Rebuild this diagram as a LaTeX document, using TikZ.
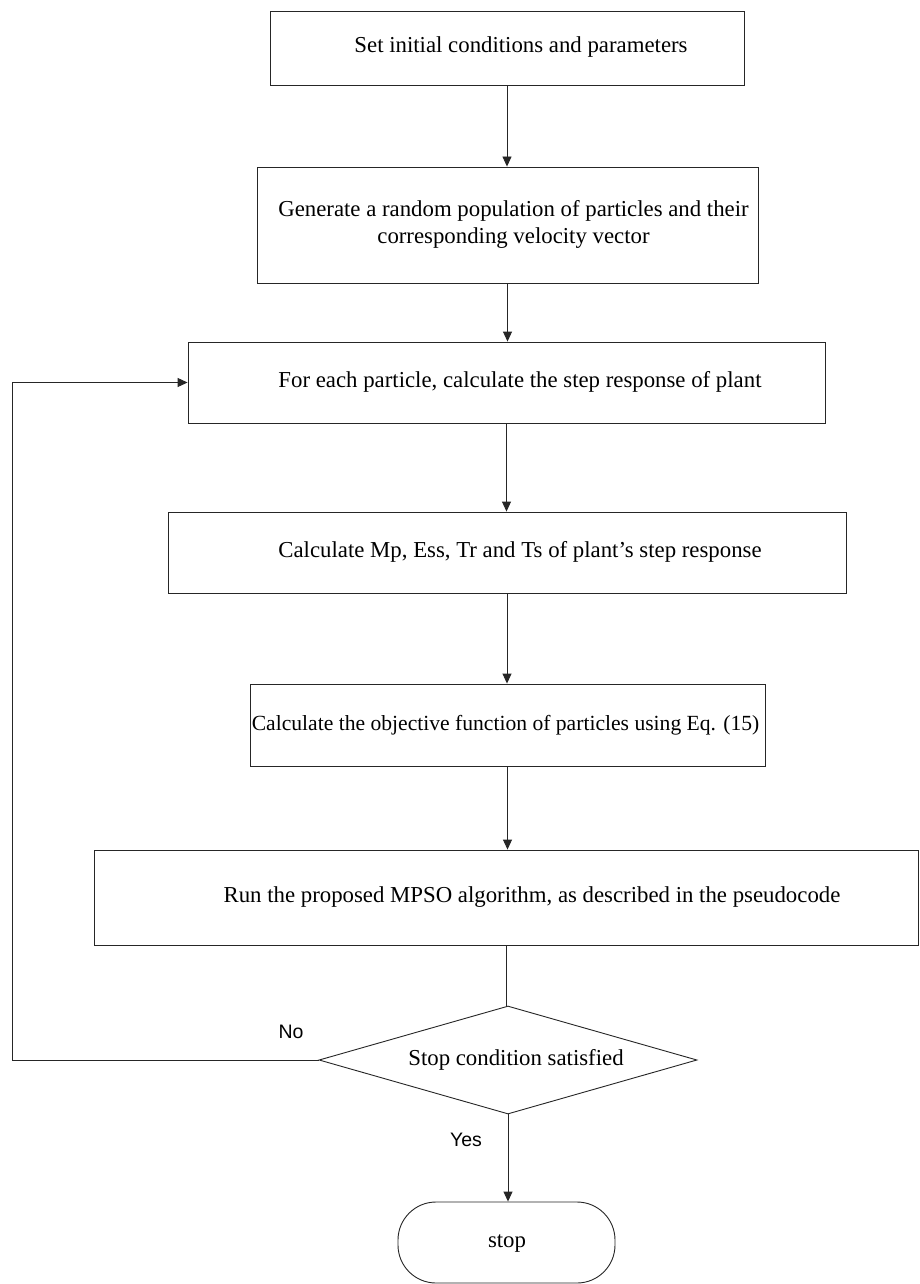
\documentclass[tikz,border=0pt]{standalone}
\usepackage{fontspec}
\setmainfont{Liberation Serif}
\newfontfamily\lsans{Liberation Sans}
\usetikzlibrary{arrows.meta,shapes.geometric}
\tikzset{
  procbox/.style={draw=black!85, line width=0.9pt, rectangle, inner sep=0pt},
  decbox/.style={draw=black!85, line width=0.9pt, diamond, inner sep=0pt},
  termbox/.style={draw=black!85, line width=0.9pt, rectangle, rounded corners=38pt, inner sep=0pt},
  txt/.style={font=\fontsize{22.8}{27.5}\selectfont, inner sep=0pt, align=center},
  lbl/.style={font=\lsans\fontsize{19.5}{22}\selectfont, inner sep=0pt},
  conn/.style={draw=black!85, line width=0.9pt},
  arr/.style={conn, -{Triangle[length=10pt,width=9pt]}}
}
\begin{document}
\begin{tikzpicture}[x=1pt,y=-1pt]
\useasboundingbox[fill=white] (0,0) rectangle (920,1284);
% boxes
\node[procbox, minimum width=474pt, minimum height=74pt] (b1) at (507,48) {};
\node[procbox, minimum width=501pt, minimum height=116pt] (b2) at (507.5,225) {};
\node[procbox, minimum width=637pt, minimum height=81pt] (b3) at (506.5,382.5) {};
\node[procbox, minimum width=678pt, minimum height=81pt] (b4) at (507,552.5) {};
\node[procbox, minimum width=515pt, minimum height=82pt] (b5) at (507.5,725) {};
\node[procbox, minimum width=824pt, minimum height=95pt] (b6) at (506,897.5) {};
\node[decbox, minimum width=378pt, minimum height=108pt] (dia) at (508,1060) {};
\node[termbox, minimum width=217pt, minimum height=81pt] (stp) at (506.5,1242.5) {};
% texts
\node[txt] (t1) at (521,47) {Set initial conditions and parameters};
\node[txt] (t2) at (513.5,224.5) {Generate a random population of particles and their\\corresponding velocity vector};
\node[txt] (t3) at (520,382) {For each particle, calculate the step response of plant};
\node[txt] (t4) at (520,552) {Calculate Mp, Ess, Tr and Ts of plant’s step response};
\node[txt, font=\fontsize{21.6}{26}\selectfont] (t5) at (505.5,725) {Calculate the objective function of particles using Eq. (15)};
\node[txt] (t6) at (532,897) {Run the proposed MPSO algorithm, as described in the pseudocode};
\node[txt] (td) at (516,1060) {Stop condition satisfied};
\node[txt] (ts) at (507,1243) {stop};
\node[lbl] (no) at (291,1032) {No};
\node[lbl] (yes) at (466,1140) {Yes};
% connectors
\draw[arr] (b1.south) -- (b1.south |- b2.north);
\draw[arr] (b2.south) -- (b2.south |- b3.north);
\draw[arr] (b3.south) -- (b3.south |- b4.north);
\draw[arr] (b4.south) -- (b4.south |- b5.north);
\draw[arr] (b5.south) -- (b5.south |- b6.north);
\draw[conn] (b6.south) -- (b6.south |- dia.north);
\draw[arr] (dia.south) -- (dia.south |- stp.north);
\coordinate (fb) at (12.7,1060);
\draw[arr] (dia.west) -- (fb) |- (b3.west);
\end{tikzpicture}
\end{document}
